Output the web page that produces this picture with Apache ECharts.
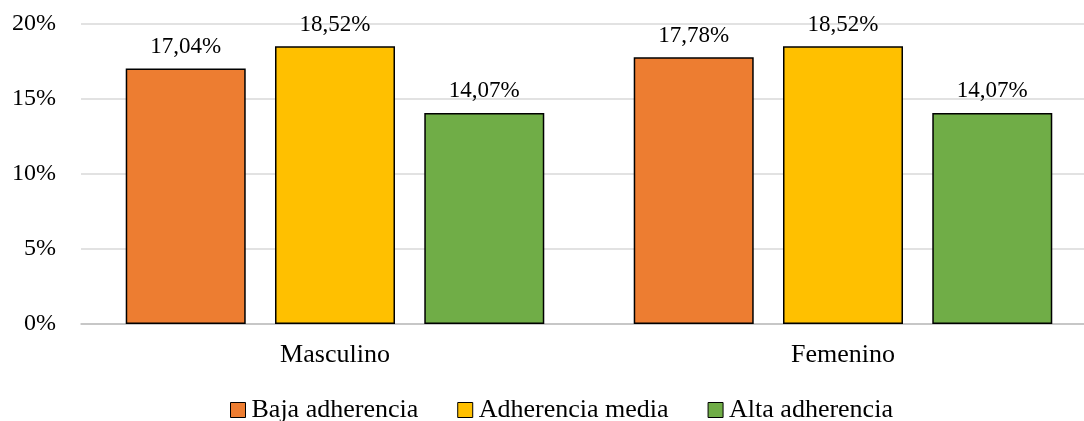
<!DOCTYPE html>
<html>
<head>
<meta charset="utf-8">
<script src="https://cdn.jsdelivr.net/npm/echarts@6/dist/echarts.min.js"></script>
<style>
  html, body { margin: 0; padding: 0; background: #fff; overflow: hidden; }
  #chart { width: 1084px; height: 421px; }
</style>
</head>
<body>
<div id="chart"></div>
<script>
// Adherence level by sex (percent of respondents)
const categories = ['Masculino', 'Femenino'];
const seriesNames = ['Baja adherencia', 'Adherencia media', 'Alta adherencia'];
const bajaValues = [17.04, 17.78];
const mediaValues = [18.52, 18.52];
const altaValues = [14.07, 14.07];
const yTicks = [0, 5, 10, 15, 20];

const colors = ['#ED7D31', '#FFC000', '#70AD47'];
const font = 'Liberation Serif, Times New Roman, serif';

const fmtPct = v => v.toFixed(2).replace('.', ',') + '%';

function barSeries(name, data, color) {
  return {
    name: name,
    type: 'bar',
    data: data,
    barWidth: 120,
    barGap: '24.4%',
    itemStyle: { color: color, borderColor: '#000', borderWidth: 1.5 },
    label: {
      show: true,
      position: 'top',
      distance: 10,
      color: '#000',
      fontFamily: font,
      fontSize: 23,
      formatter: p => fmtPct(p.value)
    }
  };
}

const chart = echarts.init(document.getElementById('chart'), null, { renderer: 'canvas' });
chart.setOption({
  animation: false,
  color: colors,
  // plot band runs a little past the right edge of the canvas
  grid: { left: 81, right: -13, top: 24, bottom: 97, outerBoundsMode: 'none', containLabel: false },
  legend: {
    data: seriesNames,
    top: 392,
    left: 225,
    icon: 'rect',
    itemWidth: 15,
    itemHeight: 15,
    itemGap: 39,
    itemStyle: { borderColor: '#000', borderWidth: 1 },
    textStyle: { fontFamily: font, fontSize: 26, color: '#000', padding: [0, 0, 0, 1] }
  },
  xAxis: {
    type: 'category',
    data: categories,
    axisTick: { show: false },
    axisLine: { lineStyle: { color: '#bfbfbf', width: 1.5 } },
    axisLabel: { color: '#000', fontFamily: font, fontSize: 26, margin: 18 }
  },
  yAxis: {
    type: 'value',
    min: yTicks[0],
    max: yTicks[yTicks.length - 1],
    interval: 5,
    axisLine: { show: false },
    axisTick: { show: false },
    splitLine: { lineStyle: { color: '#d9d9d9', width: 1.5 } },
    axisLabel: {
      color: '#000',
      fontFamily: font,
      fontSize: 24,
      margin: 25,
      formatter: v => v + '%'
    }
  },
  series: [
    barSeries(seriesNames[0], bajaValues, colors[0]),
    barSeries(seriesNames[1], mediaValues, colors[1]),
    barSeries(seriesNames[2], altaValues, colors[2])
  ]
});
</script>
</body>
</html>
